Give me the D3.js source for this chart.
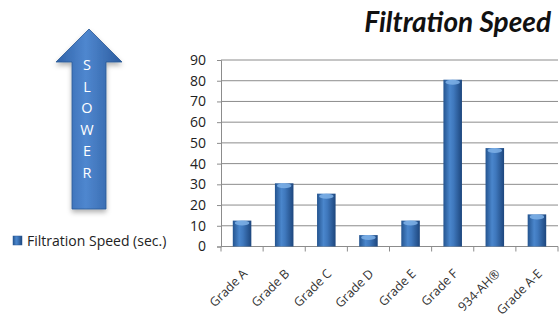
<!DOCTYPE html>
<html><head><meta charset="utf-8">
<script src="https://cdn.jsdelivr.net/npm/d3@7"></script>
<style>body{margin:0;background:#fff}svg{display:block}</style>
</head><body>
<script>
const categories = ["Grade A","Grade B","Grade C","Grade D","Grade E","Grade F","934-AH®","Grade A-E"];
const values = [12.5, 30.5, 25.5, 5.5, 12.5, 80.5, 47.5, 15.5];
const yTicks = [0,10,20,30,40,50,60,70,80,90];
const seriesName = "Filtration Speed (sec.)";
const title = "Filtration Speed";
const arrowLetters = ["S","L","O","W","E","R"];

const W = 559, H = 318;
const svg = d3.select("body").append("svg").attr("width", W).attr("height", H);
const defs = svg.append("defs");
const bg = defs.append("linearGradient").attr("id","barg").attr("x1","0").attr("x2","1").attr("y1","0").attr("y2","0");
[["0%","#24548f"],["35%","#4a86cc"],["55%","#3f78bd"],["100%","#1d467d"]].forEach(s=>bg.append("stop").attr("offset",s[0]).attr("stop-color",s[1]));
const ag = defs.append("linearGradient").attr("id","arrg").attr("x1","0").attr("x2","1").attr("y1","0").attr("y2","0");
[["0%","#2f62a8"],["45%","#4f87cf"],["100%","#2c5c9f"]].forEach(s=>ag.append("stop").attr("offset",s[0]).attr("stop-color",s[1]));
const sh = defs.append("filter").attr("id","shadow").attr("x","-20%").attr("y","-10%").attr("width","140%").attr("height","130%");
sh.append("feDropShadow").attr("dx",0).attr("dy",3).attr("stdDeviation",2.5).attr("flood-color","#000").attr("flood-opacity",0.3);

const x = d3.scaleBand().domain(categories).range([221, 558]).paddingInner(0.56).paddingOuter(0.28);
const xb = d3.scaleBand().domain(categories).range([221, 558]);
const y = d3.scaleLinear().domain([0, 90]).range([246.5, 60]);

// grid
svg.append("g").selectAll("line").data(yTicks.slice(1)).join("line")
  .attr("x1", 221).attr("x2", 558).attr("y1", d=>y(d)).attr("y2", d=>y(d))
  .attr("stroke", "#8c8c8c").attr("stroke-width", 1);

// y axis
const yAxis = svg.append("g").attr("transform","translate(221,0)")
  .call(d3.axisLeft(y).tickValues(yTicks).tickSize(4).tickPadding(11));
yAxis.select(".domain").attr("stroke","#8c8c8c");
yAxis.selectAll(".tick line").attr("stroke","#8c8c8c");
yAxis.selectAll("text").attr("font-family","'Open Sans', sans-serif").attr("font-size",14).attr("fill","#222");

// x axis
const xAxisG = svg.append("g").attr("transform",`translate(0,${y(0)})`);
xAxisG.append("line").attr("x1",221).attr("x2",558).attr("stroke","#8c8c8c");
xAxisG.selectAll("line.t").data(categories.concat(["_end"])).join("line").attr("class","t")
  .attr("x1",(d,i)=> i<categories.length ? xb(d) : 558).attr("x2",(d,i)=> i<categories.length ? xb(d) : 558)
  .attr("y1",0).attr("y2",5).attr("stroke","#8c8c8c");
xAxisG.selectAll("text").data(categories).join("text")
  .attr("transform", d=>`translate(${xb(d)+xb.bandwidth()/2+6},28) rotate(-45)`)
  .attr("text-anchor","end")
  .attr("font-family","'Open Sans', sans-serif").attr("font-size",12.5).attr("fill","#333")
  .text(d=>d);

// bars
const bars = svg.append("g").selectAll("g").data(categories).join("g");
bars.append("rect")
  .attr("x", d=>x(d)).attr("width", x.bandwidth())
  .attr("y", (d,i)=>y(values[i])).attr("height",(d,i)=>y(0)-y(values[i]))
  .attr("fill","url(#barg)");
bars.append("ellipse")
  .attr("cx", d=>x(d)+x.bandwidth()/2).attr("cy",(d,i)=>y(values[i])+2.5)
  .attr("rx", x.bandwidth()/2-2).attr("ry",2.5)
  .attr("fill","#7fb2e8").attr("opacity",0.85);

// title
svg.append("text").attr("x", 551).attr("y", 32).attr("text-anchor","end")
  .attr("font-family","Lato, sans-serif").attr("font-weight","bold").attr("font-style","italic")
  .attr("font-size", 28).attr("fill","#111").text(title);

// arrow
const ap = d3.path();
ap.moveTo(89,29); ap.lineTo(122,62); ap.lineTo(106,62); ap.lineTo(106,209);
ap.lineTo(72,209); ap.lineTo(72,62); ap.lineTo(56,62); ap.closePath();
svg.append("path").attr("d", ap.toString()).attr("fill","url(#arrg)").attr("stroke","#2a5896").attr("stroke-width",0.8).attr("filter","url(#shadow)");
svg.append("g").selectAll("text").data(arrowLetters).join("text")
  .attr("x", 87).attr("y",(d,i)=>70+i*21.6).attr("text-anchor","middle")
  .attr("font-family","'Open Sans', sans-serif").attr("font-size",14.5).attr("fill","#fff")
  .text(d=>d);

// legend
svg.append("rect").attr("x",13).attr("y",236).attr("width",9).attr("height",9).attr("fill","url(#barg)").attr("stroke","#2a5896").attr("stroke-width",0.5);
svg.append("text").attr("x",27).attr("y",246)
  .attr("font-family","'Open Sans', sans-serif").attr("font-size",14).attr("fill","#222").text(seriesName);
</script>
</body></html>
